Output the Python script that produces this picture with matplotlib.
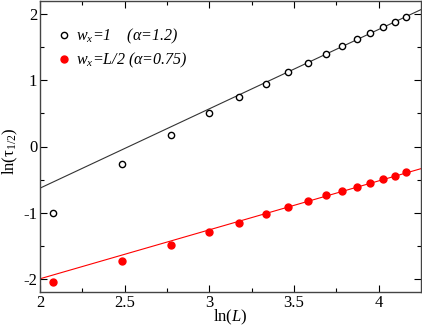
import matplotlib
matplotlib.use("Agg")
import matplotlib.pyplot as plt
import numpy as np

lnL = [2.079, 2.485, 2.773, 2.996, 3.178, 3.332, 3.466, 3.584, 3.689, 3.784,
       3.871, 3.951, 4.025, 4.094, 4.159]
tau_w1 = [-1.00, -0.27, 0.167, 0.50, 0.747, 0.95, 1.126, 1.27, 1.40, 1.515,
          1.62, 1.71, 1.80, 1.88, 1.955]
tau_wL2 = [-2.05, -1.73, -1.49, -1.30, -1.15, -1.02, -0.92, -0.82, -0.74, -0.67,
           -0.61, -0.55, -0.49, -0.44, -0.39]
fit_w1 = (1.2, -3.03)
fit_wL2 = (0.74, -3.48)
xticks = [2, 2.5, 3, 3.5, 4]
yticks = [-2, -1, 0, 1, 2]

plt.rcParams['font.family'] = ['Liberation Serif', 'DejaVu Serif']
plt.rcParams['mathtext.fontset'] = 'custom'
plt.rcParams['mathtext.rm'] = 'Liberation Serif'
plt.rcParams['mathtext.it'] = 'Liberation Serif:italic'

fig = plt.figure(figsize=(4.22, 3.28), dpi=100)
ax = fig.add_axes([40/422, 1 - 292/328, 381/422, 291/328])

xl = np.array([2.0, 4.25])
ax.plot(xl, fit_w1[0]*xl + fit_w1[1], color='#333333', lw=0.8)
ax.plot(xl, fit_wL2[0]*xl + fit_wL2[1], color='red', lw=0.8)
ax.plot(lnL, tau_w1, 'o', mfc='white', mec='black', mew=1.0, ms=4.5, ls='none',
        label=r'$w_x$=1    (α=1.2)')
ax.plot(lnL, tau_wL2, 'o', mfc='red', mec='red', ms=5, ls='none',
        label=r'$w_x$=L/2 (α=0.75)')

ax.set_xlim(2, 4.25)
ax.set_ylim(-2.2, 2.2)
ax.set_xticks(xticks)
ax.set_xticklabels(['2', '2.5', '3', '3.5', '4'])
ax.set_yticks(yticks)
ax.set_yticklabels(['-2', '-1', '0', '1', '2'])
ax.set_xticks(np.arange(2.25, 4.25, 0.5), minor=True)
ax.set_yticks(np.arange(-1.5, 2.0, 1.0), minor=True)
ax.tick_params(which='both', direction='in', top=True, right=True, labelsize=12, pad=2)
ax.tick_params(which='major', length=5, width=0.8)
ax.tick_params(which='minor', length=3, width=0.8)
for s in ax.spines.values():
    s.set_linewidth(1.0)
    s.set_color('#444444')

ax.set_xlabel(r'ln($L$)', fontsize=12, labelpad=-2)
ax.set_ylabel(r'ln(τ$_{1/2}$)', fontsize=12)
ax.yaxis.set_label_coords(-0.052, 0.485)

leg = ax.legend(loc='upper left', bbox_to_anchor=(0.039, 0.912), frameon=False,
                handletextpad=0.1, handlelength=1.2, borderaxespad=0, borderpad=0,
                labelspacing=0.3, prop={'style': 'italic', 'size': 11.5})

fig.savefig('out.png', dpi=100)
